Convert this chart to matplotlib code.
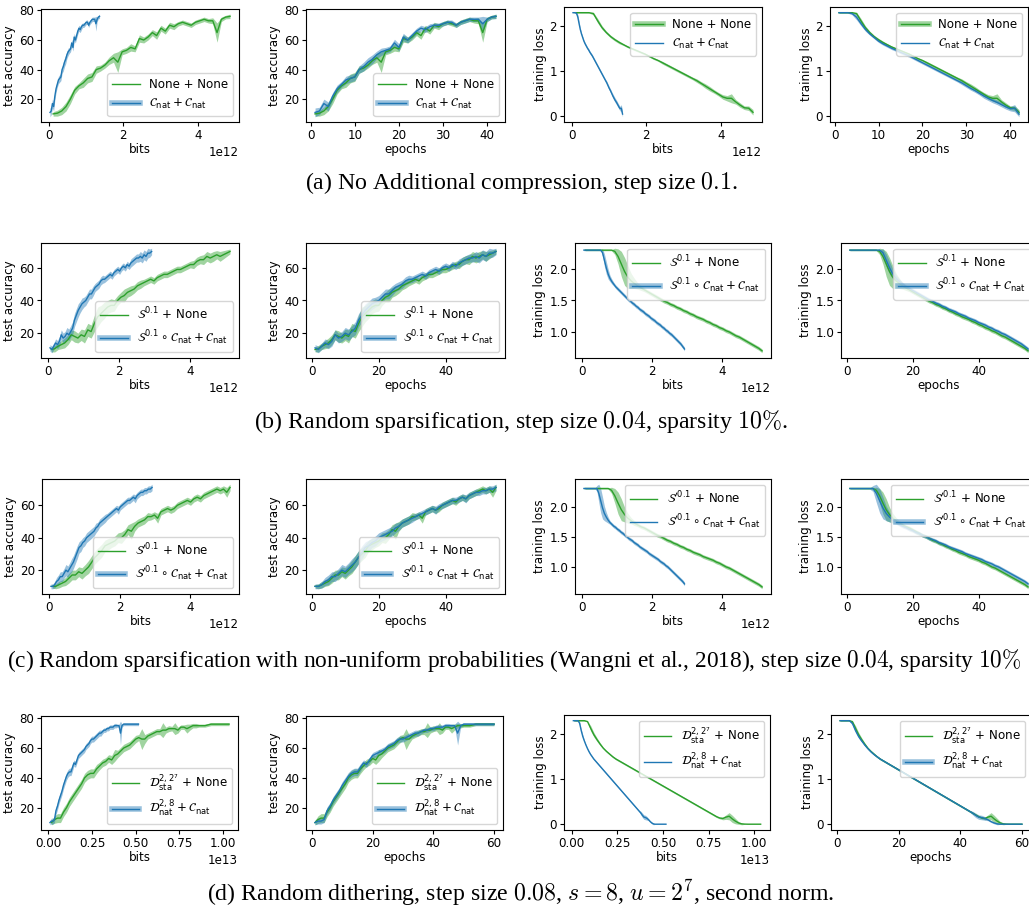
"""
Compression experiments: test accuracy and training loss against bits and epochs,
four settings (rows), each with its own caption underneath.
"""

import matplotlib
matplotlib.use("Agg")
import matplotlib.pyplot as plt
import numpy as np
from matplotlib.lines import Line2D

W, H = 1029, 913
GREEN = '#2ca02c'
BLUE = '#1f77b4'
FS = 8.6

# ---- (a) no additional compression: 42 epochs ----
A_BITS_PER_EPOCH = (0.1157e12, 0.0324e12)
A_ACC_BASE = [10, 10.5, 12, 15, 20, 26, 29, 31, 34, 35, 40, 41, 43, 46, 48, 45, 52, 53, 55, 54,
              61, 60, 62, 65, 63, 68, 66, 70, 69, 71, 72, 71, 70, 72, 73, 74, 73, 73, 65, 74, 75.5, 76]
A_ACC_BASE_SD = [1.5, 2, 2.5, 3, 3, 2.5, 2, 3, 3, 3, 2.5, 2, 2, 2.5, 3, 7, 2, 2, 2.5, 2,
                 2.5, 2, 2, 2, 2.5, 2, 2, 2, 2, 1.5, 1.5, 1.5, 1.5, 1.5, 1.5, 1.5, 1.5, 2, 6.5, 1.5, 1.2, 1.5]
A_ACC_NAT = [11, 12, 17, 15, 22, 27, 30, 33, 34, 35, 40, 42, 45, 47, 50, 52, 53, 54, 58, 55,
             62, 60, 63, 66, 68, 67, 69, 70, 70, 71, 72, 72, 70, 72, 73, 74, 74, 74, 71, 74, 75.5, 76]
A_ACC_NAT_SD = [3, 2.5, 3, 3, 2.5, 2.5, 2, 2.5, 2.5, 2.5, 2.5, 3, 3, 3, 2.5, 2.5, 2, 2, 2.5, 2.5,
                2.5, 2, 2, 2, 2, 2, 2, 1.5, 1.5, 1.5, 1.5, 1.5, 1.5, 1.5, 1.5, 1.5, 1.5, 1.5, 5, 1.5, 1.2, 1.5]
A_LOSS_BASE = [2.30, 2.30, 2.30, 2.30, 2.28, 2.12, 1.97, 1.86, 1.77, 1.70, 1.64, 1.59, 1.54, 1.50,
               1.46, 1.42, 1.38, 1.33, 1.28, 1.24, 1.19, 1.14, 1.09, 1.04, 0.99, 0.94, 0.89, 0.84,
               0.79, 0.73, 0.67, 0.61, 0.55, 0.49, 0.43, 0.40, 0.40, 0.32, 0.25, 0.19, 0.18, 0.09]
A_LOSS_BASE_SD = [0.01] * 4 + [0.03, 0.05, 0.04] + [0.03] * 4 + [0.02] * 9 + [0.03] * 8 + \
                 [0.04, 0.04, 0.05, 0.05, 0.04, 0.04, 0.05, 0.06, 0.10, 0.05, 0.05, 0.04, 0.05, 0.06]
A_LOSS_NAT = [2.30, 2.30, 2.30, 2.28, 2.20, 2.06, 1.93, 1.83, 1.75, 1.67, 1.61, 1.56, 1.51, 1.47,
              1.42, 1.38, 1.34, 1.29, 1.24, 1.19, 1.14, 1.09, 1.04, 0.99, 0.94, 0.89, 0.84, 0.79,
              0.74, 0.68, 0.62, 0.57, 0.51, 0.45, 0.40, 0.35, 0.31, 0.26, 0.21, 0.17, 0.18, 0.05]
A_LOSS_NAT_SD = [0.01] * 3 + [0.03, 0.06, 0.05, 0.04] + [0.03] * 21 + [0.04] * 5 + [0.05] * 7 + [0.08, 0.06]

# ---- (b) random sparsification: 55 epochs ----
B_BITS_PER_EPOCH = (0.0933e12, 0.0531e12)
B_ACC_BASE = [10, 10.5, 12, 13, 14, 16, 19, 18, 17, 19, 18, 22, 21, 26, 30, 32, 34, 36, 37, 37,
              40, 42, 43, 45, 46, 47, 49, 50, 51, 52, 53, 52, 54, 55, 56, 56, 57, 58, 59, 59,
              60, 61, 62, 62, 64, 65, 65, 67, 66, 67, 68, 67, 68, 69, 70]
B_ACC_BASE_SD = [1.5, 2, 2, 2.5, 3, 3, 3, 3.5, 3, 3.5, 4, 4, 4, 5, 6, 5, 5, 4, 4, 3.5,
                 3, 3, 4, 3, 3, 2.5, 2.5, 2.5, 2, 2, 2, 2, 2, 2, 2, 2, 2, 2, 2, 2,
                 2, 2, 2, 2.5, 2.5, 2.5, 3, 3, 3, 3, 2.5, 3, 2.5, 2, 1.5]
B_ACC_NAT = [11, 10, 12, 14, 13, 15, 19, 17, 18, 20, 19, 21, 23, 28, 31, 34, 36, 38, 39, 40,
             42, 44, 44, 46, 48, 49, 50, 52, 53, 53, 54, 55, 56, 55, 57, 58, 59, 58, 60, 61,
             60, 62, 61, 63, 64, 65, 66, 66, 67, 66, 68, 67, 69, 69, 70]
B_ACC_NAT_SD = [2, 2, 2, 2.5, 2.5, 3, 3, 3, 3, 3.5, 3.5, 3.5, 4, 4, 4, 4, 3.5, 3.5, 3, 3,
                3, 3, 3, 3, 2.5, 2.5, 2.5, 2.5, 2.5, 2, 2, 2, 2, 2, 2, 2, 2, 2, 2, 2,
                2, 2, 2, 2.5, 2.5, 2.5, 2.5, 2.5, 3, 3, 3, 3, 3, 2.5, 2]
B_LOSS_BASE = [2.30] * 9 + [2.28, 2.20, 2.08, 1.96, 1.87, 1.81, 1.77, 1.73, 1.70, 1.67, 1.64,
               1.61, 1.58, 1.55, 1.52, 1.49, 1.47, 1.44, 1.42, 1.39, 1.37, 1.34, 1.32, 1.29,
               1.27, 1.24, 1.22, 1.20, 1.17, 1.15, 1.12, 1.10, 1.07, 1.05, 1.02, 1.00, 0.97,
               0.94, 0.92, 0.89, 0.86, 0.83, 0.80, 0.77, 0.74, 0.70]
B_LOSS_BASE_SD = [0.01] * 9 + [0.05, 0.12, 0.20, 0.22, 0.18, 0.12, 0.08, 0.05, 0.04] + [0.03] * 37
B_LOSS_NAT = [2.30] * 10 + [2.26, 2.14, 2.02, 1.92, 1.85, 1.80, 1.76, 1.72, 1.69, 1.66, 1.63,
              1.60, 1.57, 1.54, 1.51, 1.49, 1.46, 1.44, 1.41, 1.39, 1.36, 1.34, 1.32, 1.29,
              1.27, 1.25, 1.22, 1.20, 1.18, 1.15, 1.13, 1.11, 1.08, 1.06, 1.03, 1.01, 0.98,
              0.96, 0.93, 0.90, 0.87, 0.84, 0.81, 0.77, 0.73]
B_LOSS_NAT_SD = [0.01] * 10 + [0.06, 0.10, 0.10, 0.08, 0.05, 0.04] + [0.03] * 39

# ---- (c) non-uniform random sparsification: 55 epochs ----
C_BITS_PER_EPOCH = (0.0933e12, 0.0531e12)
C_ACC_BASE = [10, 10, 11, 12, 13, 15, 17, 17, 19, 18, 20, 22, 25, 28, 30, 32, 35, 36, 37, 38,
              40, 40, 42, 45, 44, 47, 49, 50, 51, 53, 53, 54, 52, 56, 57, 58, 57, 58, 60, 61,
              62, 63, 62, 64, 65, 64, 66, 67, 68, 69, 70, 69, 70, 68, 71]
C_ACC_BASE_SD = [1, 1.5, 2, 2, 2.5, 3, 3, 3, 3, 3.5, 3.5, 4, 4, 4, 4, 4, 3.5, 3.5, 3, 3,
                 3, 3.5, 3, 3, 5, 3, 2.5, 2.5, 2.5, 2.5, 2, 2, 3, 2, 2, 2, 2, 2, 2, 2,
                 2, 2, 2, 2, 2, 2, 2, 2, 2, 2, 2, 2, 2, 3, 2]
C_ACC_NAT = [10, 10, 11, 13, 14, 16, 16, 18, 20, 19, 21, 23, 25, 28, 31, 34, 35, 37, 38, 40,
             41, 42, 43, 44, 46, 47, 49, 50, 51, 52, 53, 54, 55, 56, 57, 58, 57, 59, 60, 61,
             62, 63, 63, 64, 65, 64, 66, 67, 68, 68, 69, 69, 70, 70, 71]
C_ACC_NAT_SD = [1.5, 1.5, 2, 2.5, 3, 3, 3, 3, 3.5, 3.5, 3.5, 4, 4, 4, 4, 3.5, 3.5, 3, 3, 3,
                3, 3, 3, 3, 3, 2.5, 2.5, 2.5, 2.5, 2.5, 2, 2, 2, 2, 2, 2, 2.5, 2, 2, 2,
                2, 2, 2, 2, 2, 2.5, 2, 2, 2, 2, 2, 2, 2, 2, 2]
C_LOSS_BASE = [2.30] * 8 + [2.27, 2.18, 2.06, 1.95, 1.87, 1.81, 1.77, 1.73, 1.70, 1.67, 1.65,
               1.62, 1.59, 1.56, 1.53, 1.51, 1.48, 1.45, 1.43, 1.40, 1.38, 1.35, 1.33, 1.30,
               1.28, 1.25, 1.23, 1.21, 1.18, 1.16, 1.14, 1.12, 1.09, 1.07, 1.04, 1.01, 0.99,
               0.96, 0.93, 0.90, 0.87, 0.84, 0.81, 0.78, 0.75, 0.72, 0.68]
C_LOSS_BASE_SD = [0.01] * 8 + [0.05, 0.12, 0.18, 0.18, 0.12, 0.08, 0.05, 0.04] + [0.03] * 39
C_LOSS_NAT = [2.30] * 8 + [2.22, 2.10, 1.98, 1.89, 1.83, 1.78, 1.74, 1.71, 1.68, 1.66, 1.63,
              1.61, 1.58, 1.56, 1.53, 1.51, 1.48, 1.46, 1.44, 1.41, 1.39, 1.37, 1.34, 1.32,
              1.30, 1.28, 1.26, 1.23, 1.21, 1.19, 1.17, 1.15, 1.13, 1.10, 1.08, 1.06, 1.03,
              1.01, 0.98, 0.95, 0.92, 0.89, 0.86, 0.83, 0.80, 0.77, 0.73]
C_LOSS_NAT_SD = [0.01] * 7 + [0.05, 0.15, 0.20, 0.18, 0.12, 0.08, 0.05] + [0.03] * 41

# ---- (d) random dithering: 60 epochs ----
D_BITS_PER_EPOCH = (0.1725e12, 0.0860e12)
D_ACC_BASE = [10, 12, 13, 13, 17, 20, 24, 27, 30, 33, 36, 40, 42, 43, 43, 46, 48, 50, 51, 53,
              52, 55, 56, 58, 60, 61, 62, 64, 66, 67, 66, 66, 68, 69, 70, 71, 71, 72, 72, 73,
              73, 73, 72, 74, 74, 73, 74, 75, 75, 75, 75, 75, 75.5, 76, 76, 76, 76, 76, 76, 76]
D_ACC_BASE_SD = [1.5, 2.5, 3, 3, 3, 3, 3, 3, 3, 3, 3, 3, 3, 3, 3, 3, 2.5, 2.5, 2.5, 2.5,
                 3, 4, 2.5, 2.5, 2.5, 2.5, 2.5, 2.5, 2.5, 2, 7, 3, 2, 2, 2, 2, 2, 5, 2, 2,
                 1.5, 4, 2, 1.5, 1.5, 3, 2, 1.5, 1.5, 1, 1, 1, 1, 1, 1, 1, 1, 1, 1, 1]
D_ACC_NAT = [10, 11, 11, 12, 18, 21, 25, 28, 31, 35, 38, 41, 43, 44, 44, 47, 50, 49, 52, 55,
             56, 57, 58, 59, 61, 62, 63, 65, 66, 66, 67, 68, 69, 70, 70, 71, 72, 72, 73, 73,
             74, 74, 74, 75, 75, 75, 75, 70, 75, 76, 76, 76, 76, 76, 76, 76, 76, 76, 76, 76]
D_ACC_NAT_SD = [1.5, 2, 2, 2, 2.5, 2.5, 2.5, 2.5, 2.5, 2.5, 2.5, 2.5, 2.5, 2.5, 2.5, 2.5, 2, 2, 2, 2,
                2, 2, 2, 2, 2, 2, 2, 2, 2, 2, 2, 2, 2, 2, 2, 1.5, 1.5, 1.5, 1.5, 1.5,
                1.5, 1.5, 1.5, 1.5, 1.5, 1, 1, 8, 1, 1, 1, 1, 1, 1, 1, 1, 1, 1, 1, 1]
D_LOSS_BASE = [2.30] * 4 + [2.28, 2.13, 1.99, 1.88, 1.78, 1.69, 1.62, 1.56, 1.50, 1.45, 1.41,
               1.37, 1.33, 1.29, 1.25, 1.21, 1.17, 1.13, 1.09, 1.05, 1.01, 0.97, 0.93, 0.89,
               0.85, 0.81, 0.77, 0.73, 0.69, 0.65, 0.61, 0.57, 0.53, 0.49, 0.45, 0.41, 0.37,
               0.33, 0.29, 0.25, 0.21, 0.17, 0.14, 0.13, 0.16, 0.18, 0.12, 0.07, 0.03, 0.01,
               0.005] + [0.003] * 5
D_LOSS_BASE_SD = [0.01] * 5 + [0.06, 0.05, 0.04, 0.03] + [0.02] * 38 + \
                 [0.03, 0.05, 0.08, 0.08, 0.06, 0.03, 0.02] + [0.005] * 6
D_LOSS_NAT = [2.30] * 4 + [2.24, 2.08, 1.95, 1.85, 1.76, 1.68, 1.61, 1.55, 1.50, 1.45, 1.41,
              1.37, 1.33, 1.29, 1.25, 1.21, 1.17, 1.13, 1.09, 1.05, 1.01, 0.97, 0.93, 0.89,
              0.85, 0.81, 0.77, 0.73, 0.69, 0.65, 0.61, 0.57, 0.53, 0.49, 0.45, 0.41, 0.37,
              0.33, 0.29, 0.25, 0.20, 0.16, 0.15, 0.13, 0.10, 0.06, 0.03, 0.01] + [0.003] * 8
D_LOSS_NAT_SD = [0.01] * 4 + [0.04] * 3 + [0.02] * 36 + [0.04, 0.05, 0.05, 0.05, 0.04] + \
                [0.02] * 4 + [0.005] * 8

LABELS_A = ('None + None', r'$\mathcal{C}_{\rm nat} + \mathcal{C}_{\rm nat}$')
LABELS_B = (r'$\mathcal{S}^{0.1}$ + None',
            r'$\mathcal{S}^{0.1} \circ \mathcal{C}_{\rm nat} + \mathcal{C}_{\rm nat}$')
LABELS_C = (r'$\mathcal{S}^{\prime 0.1}$ + None',
            r'$\mathcal{S}^{\prime 0.1} \circ \mathcal{C}_{\rm nat} + \mathcal{C}_{\rm nat}$')
LABELS_D = (r'$\mathcal{D}_{\rm sta}^{2,2^7}$ + None',
            r'$\mathcal{D}_{\rm nat}^{2,8} + \mathcal{C}_{\rm nat}$')

CAPTIONS = [
    '(a) No Additional compression, step size $0.1$.',
    r'(b) Random sparsification, step size $0.04$, sparsity $10\%$.',
    r'(c) Random sparsification with non-uniform probabilities (Wangni et al., 2018), '
    r'step size $0.04$, sparsity $10\%$',
    r'(d) Random dithering, step size $0.08$, $s=8$, $u=2^7$, second norm.',
]
CAPTION_SIZE = [17.2, 17.2, 16.8, 17.2]
CAPTION_X = [521, 521, 514, 521]
CAPTION_Y = [183, 421, 660, 893]

ROWS = [
    (A_BITS_PER_EPOCH, A_ACC_BASE, A_ACC_BASE_SD, A_ACC_NAT, A_ACC_NAT_SD,
     A_LOSS_BASE, A_LOSS_BASE_SD, A_LOSS_NAT, A_LOSS_NAT_SD, LABELS_A),
    (B_BITS_PER_EPOCH, B_ACC_BASE, B_ACC_BASE_SD, B_ACC_NAT, B_ACC_NAT_SD,
     B_LOSS_BASE, B_LOSS_BASE_SD, B_LOSS_NAT, B_LOSS_NAT_SD, LABELS_B),
    (C_BITS_PER_EPOCH, C_ACC_BASE, C_ACC_BASE_SD, C_ACC_NAT, C_ACC_NAT_SD,
     C_LOSS_BASE, C_LOSS_BASE_SD, C_LOSS_NAT, C_LOSS_NAT_SD, LABELS_C),
    (D_BITS_PER_EPOCH, D_ACC_BASE, D_ACC_BASE_SD, D_ACC_NAT, D_ACC_NAT_SD,
     D_LOSS_BASE, D_LOSS_BASE_SD, D_LOSS_NAT, D_LOSS_NAT_SD, LABELS_D),
]

# pixel boxes (left, right, top, bottom) of each panel
BOXES = [
    [(41, 239, 9, 122), (306, 505, 9, 122), (564, 762, 7, 122), (830, 1028, 7, 122)],
    [(41, 239, 243, 358), (306, 505, 243, 358), (575, 771, 243, 358), (841, 1037, 243, 358)],
    [(42, 239, 479, 594), (306, 505, 479, 594), (575, 771, 479, 594), (841, 1037, 479, 594)],
    [(41, 238, 716, 830), (306, 503, 716, 830), (564, 770, 715, 830), (831, 1031, 715, 830)],
]
# which legend entry gets the wide, pale handle (0 = green, 1 = blue, None)
THICK = [[1, 1, 0, 0], [1, 1, 1, 1], [1, 1, None, 1], [1, 1, None, 1]]


def add_ax(fig, box):
    left, right, top, bottom = box
    return fig.add_axes([left / W, 1 - bottom / H, (right - left) / W, (bottom - top) / H])


def draw(ax, xs, curves, labels, xlabel, ylabel, loc, thick):
    for x, (y, sd), c in zip(xs, curves, (GREEN, BLUE)):
        y = np.asarray(y, dtype=float)
        sd = np.asarray(sd, dtype=float)
        ax.fill_between(x, y - sd, y + sd, color=c, alpha=0.45, lw=0)
        ax.plot(x, y, color=c, lw=1.0)
    handles = []
    for i, c in enumerate((GREEN, BLUE)):
        line = Line2D([], [], color=c, lw=1.0)
        if thick == i:
            handles.append((Line2D([], [], color=c, lw=4, alpha=0.45), line))
        else:
            handles.append(line)
    ax.legend(handles, labels, loc=loc, fontsize=FS, handlelength=2.3)
    ax.set_xlabel(xlabel, fontsize=FS, labelpad=1)
    ax.set_ylabel(ylabel, fontsize=FS, labelpad=2)
    ax.tick_params(labelsize=FS, length=3, pad=2)
    ax.xaxis.get_offset_text().set_fontsize(FS)


fig = plt.figure(figsize=(W / 100, H / 100), dpi=100)

for r, row in enumerate(ROWS):
    (bpe, acc_b, acc_b_sd, acc_n, acc_n_sd,
     loss_b, loss_b_sd, loss_n, loss_n_sd, labels) = row
    ep_b = np.arange(1, len(acc_b) + 1)
    ep_n = np.arange(1, len(acc_n) + 1)
    bits = (ep_b * bpe[0], ep_n * bpe[1])
    epochs = (ep_b, ep_n)
    acc = ((acc_b, acc_b_sd), (acc_n, acc_n_sd))
    loss = ((loss_b, loss_b_sd), (loss_n, loss_n_sd))

    panels = [
        (bits, acc, 'bits', 'test accuracy', 'lower right'),
        (epochs, acc, 'epochs', 'test accuracy', 'lower right'),
        (bits, loss, 'bits', 'training loss', 'upper right'),
        (epochs, loss, 'epochs', 'training loss', 'upper right'),
    ]
    for c, (xs, curves, xl, yl, loc) in enumerate(panels):
        ax = add_ax(fig, BOXES[r][c])
        draw(ax, xs, curves, labels, xl, yl, loc, THICK[r][c])

    fig.text(CAPTION_X[r] / W, 1 - CAPTION_Y[r] / H, CAPTIONS[r], ha='center', va='center',
             fontsize=CAPTION_SIZE[r], family='Liberation Serif', math_fontfamily='cm')

fig.savefig('out.png', dpi=100)
